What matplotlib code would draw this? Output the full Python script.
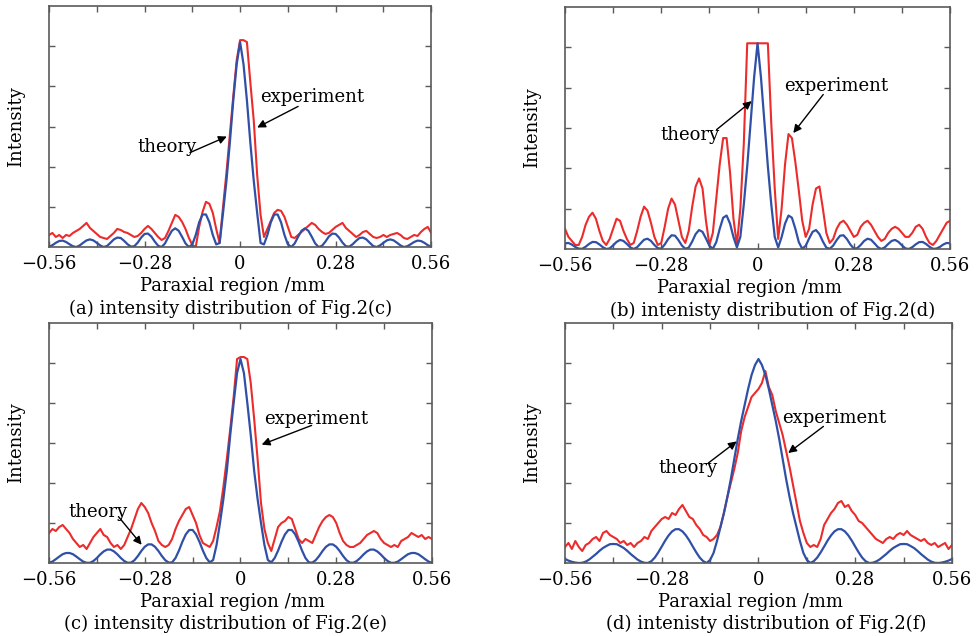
"""Four-panel comparison of theory vs experiment intensity profiles."""
import matplotlib
matplotlib.use("Agg")
import matplotlib.pyplot as plt
import numpy as np

plt.rcParams.update({
    "font.family": ["DejaVu Serif"],
    "font.size": 13,
    "axes.unicode_minus": True,
})
RED, BLUE, FRAME = "#EC2B2B", "#2F50A6", "#5A5A5A"

# sample positions (mm), 0.01 mm apart
X = np.round(np.arange(-56, 57) / 100, 2)

THEORY_A = [
    0.002, 0.009, 0.021, 0.030, 0.032, 0.025, 0.014, 0.004, 0.000, 0.008,
    0.021, 0.033, 0.038, 0.033, 0.021, 0.008, 0.000, 0.005, 0.021, 0.038,
    0.047, 0.045, 0.031, 0.014, 0.002, 0.004, 0.022, 0.047, 0.065, 0.067,
    0.052, 0.027, 0.006, 0.000, 0.018, 0.051, 0.081, 0.093, 0.081, 0.051,
    0.018, 0.000, 0.013, 0.060, 0.123, 0.162, 0.162, 0.123, 0.060, 0.013,
    0.020, 0.170, 0.330, 0.520, 0.730, 0.910, 1.020, 0.910, 0.730, 0.520,
    0.330, 0.170, 0.020, 0.013, 0.060, 0.123, 0.162, 0.162, 0.123, 0.060,
    0.013, 0.000, 0.018, 0.051, 0.081, 0.093, 0.081, 0.051, 0.018, 0.000,
    0.006, 0.027, 0.052, 0.067, 0.065, 0.047, 0.022, 0.004, 0.002, 0.014,
    0.031, 0.045, 0.047, 0.038, 0.021, 0.005, 0.000, 0.008, 0.021, 0.033,
    0.038, 0.033, 0.021, 0.008, 0.000, 0.004, 0.014, 0.025, 0.032, 0.030,
    0.021, 0.009, 0.002]
EXP_A = [
    0.06, 0.07, 0.05, 0.06, 0.045, 0.06, 0.055, 0.07, 0.08, 0.09,
    0.105, 0.12, 0.095, 0.08, 0.065, 0.05, 0.045, 0.04, 0.055, 0.07,
    0.09, 0.085, 0.075, 0.07, 0.06, 0.05, 0.055, 0.07, 0.09, 0.105,
    0.09, 0.07, 0.05, 0.035, 0.045, 0.08, 0.12, 0.16, 0.15, 0.125,
    0.09, 0.045, 0.01, 0.0, 0.1, 0.175, 0.225, 0.215, 0.17, 0.09,
    0.02, 0.2, 0.37, 0.56, 0.75, 0.93, 1.03, 1.03, 1.02, 0.82,
    0.63, 0.36, 0.16, 0.05, 0.09, 0.13, 0.17, 0.185, 0.18, 0.15,
    0.1, 0.05, 0.045, 0.06, 0.075, 0.09, 0.105, 0.12, 0.11, 0.09,
    0.075, 0.065, 0.07, 0.085, 0.1, 0.11, 0.12, 0.095, 0.08, 0.065,
    0.05, 0.06, 0.075, 0.08, 0.065, 0.05, 0.045, 0.05, 0.06, 0.05,
    0.06, 0.065, 0.07, 0.06, 0.045, 0.04, 0.05, 0.06, 0.055, 0.075,
    0.09, 0.1, 0.07]

THEORY_B = [
    0.028, 0.030, 0.022, 0.010, 0.002, 0.001, 0.011, 0.025, 0.035, 0.034,
    0.023, 0.009, 0.000, 0.003, 0.018, 0.035, 0.045, 0.040, 0.025, 0.008,
    0.000, 0.009, 0.028, 0.046, 0.051, 0.040, 0.020, 0.004, 0.002, 0.022,
    0.049, 0.068, 0.066, 0.044, 0.017, 0.001, 0.007, 0.037, 0.074, 0.094,
    0.085, 0.052, 0.016, 0.001, 0.034, 0.100, 0.155, 0.166, 0.126, 0.059,
    0.008, 0.060, 0.220, 0.410, 0.630, 0.850, 1.020, 0.850, 0.630, 0.410,
    0.220, 0.060, 0.008, 0.059, 0.126, 0.166, 0.155, 0.100, 0.034, 0.001,
    0.016, 0.052, 0.085, 0.094, 0.074, 0.037, 0.007, 0.001, 0.017, 0.044,
    0.066, 0.068, 0.049, 0.022, 0.002, 0.004, 0.020, 0.040, 0.051, 0.046,
    0.028, 0.009, 0.000, 0.008, 0.025, 0.040, 0.045, 0.035, 0.018, 0.003,
    0.000, 0.009, 0.023, 0.034, 0.035, 0.025, 0.011, 0.001, 0.002, 0.010,
    0.022, 0.030, 0.028]
EXP_B = [
    0.10, 0.06, 0.04, 0.02, 0.02, 0.06, 0.12, 0.16, 0.18, 0.15,
    0.09, 0.04, 0.02, 0.05, 0.10, 0.15, 0.14, 0.09, 0.05, 0.02,
    0.03, 0.09, 0.16, 0.21, 0.19, 0.13, 0.06, 0.02, 0.03, 0.11,
    0.20, 0.25, 0.22, 0.14, 0.06, 0.03, 0.09, 0.21, 0.31, 0.35,
    0.30, 0.14, 0.02, 0.08, 0.25, 0.42, 0.55, 0.55, 0.38, 0.15,
    0.02, 0.20, 0.52, 1.02, 1.02, 1.02, 1.02, 1.02, 1.02, 1.02,
    0.62, 0.30, 0.05, 0.20, 0.42, 0.57, 0.55, 0.43, 0.29, 0.14,
    0.06, 0.10, 0.22, 0.30, 0.31, 0.20, 0.08, 0.03, 0.05, 0.10,
    0.13, 0.14, 0.12, 0.09, 0.06, 0.07, 0.11, 0.13, 0.14, 0.12,
    0.09, 0.06, 0.04, 0.05, 0.08, 0.10, 0.11, 0.10, 0.08, 0.06,
    0.06, 0.08, 0.11, 0.12, 0.10, 0.06, 0.03, 0.02, 0.04, 0.07,
    0.10, 0.13, 0.14]

THEORY_C = [
    0.001, 0.007, 0.019, 0.032, 0.044, 0.050, 0.050, 0.044, 0.032, 0.019,
    0.007, 0.001, 0.001, 0.010, 0.025, 0.043, 0.058, 0.067, 0.067, 0.058,
    0.043, 0.025, 0.010, 0.001, 0.002, 0.014, 0.035, 0.060, 0.081, 0.093,
    0.093, 0.081, 0.060, 0.035, 0.014, 0.002, 0.003, 0.025, 0.062, 0.106,
    0.143, 0.165, 0.165, 0.143, 0.106, 0.062, 0.025, 0.003, 0.015, 0.090,
    0.200, 0.320, 0.460, 0.640, 0.800, 0.950, 1.020, 0.950, 0.800, 0.640,
    0.460, 0.320, 0.200, 0.090, 0.015, 0.003, 0.025, 0.062, 0.106, 0.143,
    0.165, 0.165, 0.143, 0.106, 0.062, 0.025, 0.003, 0.002, 0.014, 0.035,
    0.060, 0.081, 0.093, 0.093, 0.081, 0.060, 0.035, 0.014, 0.002, 0.001,
    0.010, 0.025, 0.043, 0.058, 0.067, 0.067, 0.058, 0.043, 0.025, 0.010,
    0.001, 0.001, 0.007, 0.019, 0.032, 0.044, 0.050, 0.050, 0.044, 0.032,
    0.019, 0.007, 0.001]
EXP_C = [
    0.15, 0.17, 0.16, 0.18, 0.19, 0.17, 0.15, 0.12, 0.10, 0.08,
    0.09, 0.07, 0.10, 0.13, 0.15, 0.17, 0.14, 0.13, 0.10, 0.08,
    0.09, 0.07, 0.09, 0.13, 0.17, 0.22, 0.27, 0.30, 0.28, 0.25,
    0.20, 0.16, 0.11, 0.09, 0.08, 0.09, 0.12, 0.17, 0.21, 0.24,
    0.27, 0.28, 0.24, 0.20, 0.14, 0.10, 0.09, 0.08, 0.11, 0.18,
    0.26, 0.38, 0.52, 0.67, 0.83, 1.02, 1.03, 1.03, 1.02, 0.90,
    0.72, 0.52, 0.30, 0.17, 0.10, 0.06, 0.12, 0.18, 0.20, 0.21,
    0.23, 0.22, 0.17, 0.12, 0.10, 0.12, 0.11, 0.10, 0.14, 0.18,
    0.21, 0.23, 0.24, 0.23, 0.20, 0.15, 0.11, 0.09, 0.08, 0.08,
    0.09, 0.10, 0.12, 0.14, 0.15, 0.16, 0.15, 0.12, 0.10, 0.09,
    0.08, 0.09, 0.08, 0.11, 0.12, 0.13, 0.15, 0.14, 0.13, 0.14,
    0.12, 0.13, 0.12]

THEORY_D = [
    0.020, 0.012, 0.006, 0.002, 0.000, 0.001, 0.007, 0.017, 0.031, 0.045,
    0.061, 0.075, 0.085, 0.094, 0.095, 0.094, 0.085, 0.075, 0.061, 0.045,
    0.031, 0.017, 0.007, 0.001, 0.000, 0.009, 0.027, 0.053, 0.082, 0.112,
    0.138, 0.158, 0.169, 0.169, 0.158, 0.138, 0.112, 0.082, 0.053, 0.027,
    0.009, 0.000, 0.015, 0.050, 0.110, 0.180, 0.250, 0.330, 0.420, 0.520,
    0.620, 0.710, 0.790, 0.870, 0.940, 0.990, 1.020, 0.990, 0.940, 0.870,
    0.790, 0.710, 0.620, 0.520, 0.420, 0.330, 0.250, 0.180, 0.110, 0.050,
    0.015, 0.000, 0.009, 0.027, 0.053, 0.082, 0.112, 0.138, 0.158, 0.169,
    0.169, 0.158, 0.138, 0.112, 0.082, 0.053, 0.027, 0.009, 0.000, 0.001,
    0.007, 0.017, 0.031, 0.045, 0.061, 0.075, 0.085, 0.094, 0.095, 0.094,
    0.085, 0.075, 0.061, 0.045, 0.031, 0.017, 0.007, 0.001, 0.000, 0.002,
    0.006, 0.012, 0.020]
EXP_D = [
    0.08, 0.10, 0.07, 0.11, 0.08, 0.06, 0.09, 0.10, 0.12, 0.13,
    0.11, 0.15, 0.16, 0.14, 0.13, 0.12, 0.10, 0.11, 0.09, 0.10,
    0.08, 0.10, 0.11, 0.13, 0.12, 0.16, 0.18, 0.20, 0.22, 0.23,
    0.22, 0.25, 0.24, 0.27, 0.29, 0.26, 0.23, 0.22, 0.19, 0.17,
    0.14, 0.13, 0.11, 0.12, 0.14, 0.18, 0.25, 0.33, 0.40, 0.47,
    0.55, 0.66, 0.73, 0.78, 0.83, 0.85, 0.87, 0.90, 0.96, 0.88,
    0.84, 0.76, 0.70, 0.64, 0.56, 0.48, 0.39, 0.30, 0.21, 0.15,
    0.10, 0.08, 0.09, 0.08, 0.12, 0.19, 0.22, 0.25, 0.27, 0.30,
    0.31, 0.28, 0.29, 0.26, 0.24, 0.21, 0.20, 0.18, 0.16, 0.14,
    0.12, 0.11, 0.10, 0.12, 0.13, 0.12, 0.14, 0.15, 0.14, 0.16,
    0.14, 0.13, 0.12, 0.11, 0.12, 0.10, 0.09, 0.10, 0.08, 0.09,
    0.10, 0.07, 0.09]

CAPTIONS = ["(a) intensity distribution of Fig.2(c)",
            "(b) intenisty distribution of Fig.2(d)",
            "(c) intensity distribution of Fig.2(e)",
            "(d) intenisty distribution of Fig.2(f)"]
XTICKS = [-0.56, -0.42, -0.28, -0.14, 0, 0.14, 0.28, 0.42, 0.56]
XTICKLABELS = ["\u22120.56", "", "\u22120.28", "", "0", "", "0.28", "", "0.56"]

# per panel: axes rect, caption x, (text xy, arrow tail, arrow tip) for experiment / theory
PANELS = [
    dict(rect=[0.050, 0.6116, 0.390, 0.379], theory=THEORY_A, exp=EXP_A, cap_x=0.476,
         exp_lbl=((0.21, 0.745), (0.17, 0.70), (0.05, 0.595)),
         th_lbl=((-0.215, 0.50), (-0.147, 0.47), (-0.039, 0.55))),
    dict(rect=[0.5765, 0.6085, 0.393, 0.3805], theory=THEORY_B, exp=EXP_B, cap_x=0.538,
         exp_lbl=((0.228, 0.81), (0.191, 0.766), (0.104, 0.575)),
         th_lbl=((-0.196, 0.567), (-0.119, 0.592), (-0.017, 0.733))),
    dict(rect=[0.050, 0.1148, 0.3908, 0.3773], theory=THEORY_C, exp=EXP_C, cap_x=0.462,
         exp_lbl=((0.22, 0.72), (0.208, 0.688), (0.062, 0.592)),
         th_lbl=((-0.418, 0.257), (-0.357, 0.232), (-0.289, 0.091))),
    dict(rect=[0.5765, 0.1148, 0.3949, 0.3773], theory=THEORY_D, exp=EXP_D, cap_x=0.519,
         exp_lbl=((0.219, 0.725), (0.188, 0.683), (0.086, 0.55)),
         th_lbl=((-0.205, 0.475), (-0.145, 0.50), (-0.063, 0.608))),
]

fig = plt.figure(figsize=(9.8, 6.36), dpi=100)
for p, cap in zip(PANELS, CAPTIONS):
    ax = fig.add_axes(p["rect"])
    ax.plot(X, p["exp"], color=RED, lw=1.5)
    ax.plot(X, p["theory"], color=BLUE, lw=1.6)
    ax.set_xlim(-0.56, 0.56)
    ax.set_ylim(0, 1.2)
    ax.set_xticks(XTICKS)
    ax.set_xticklabels(XTICKLABELS)
    ax.set_yticks([0.2, 0.4, 0.6, 0.8, 1.0])
    ax.set_yticklabels([])
    ax.tick_params(direction="in", length=4, width=1, color=FRAME,
                   top=True, right=True, pad=6)
    for s in ax.spines.values():
        s.set_color(FRAME)
        s.set_linewidth(1.2)
    ax.set_ylabel("Intensity")
    ax.yaxis.set_label_coords(-0.062, 0.5)
    ax.set_xlabel("Paraxial region /mm")
    ax.xaxis.set_label_coords(0.48, -0.125)
    ax.text(p["cap_x"], -0.255, cap, transform=ax.transAxes,
            ha="center", va="center")

    for word, (txt, tail, tip) in (("experiment", p["exp_lbl"]), ("theory", p["th_lbl"])):
        ax.text(*txt, word, ha="center", va="center")
        ax.annotate("", xy=tip, xytext=tail,
                    arrowprops=dict(arrowstyle="-|>", color="black", lw=1,
                                    mutation_scale=12, shrinkA=0, shrinkB=0))

fig.savefig("out.png", dpi=100, facecolor="white")
